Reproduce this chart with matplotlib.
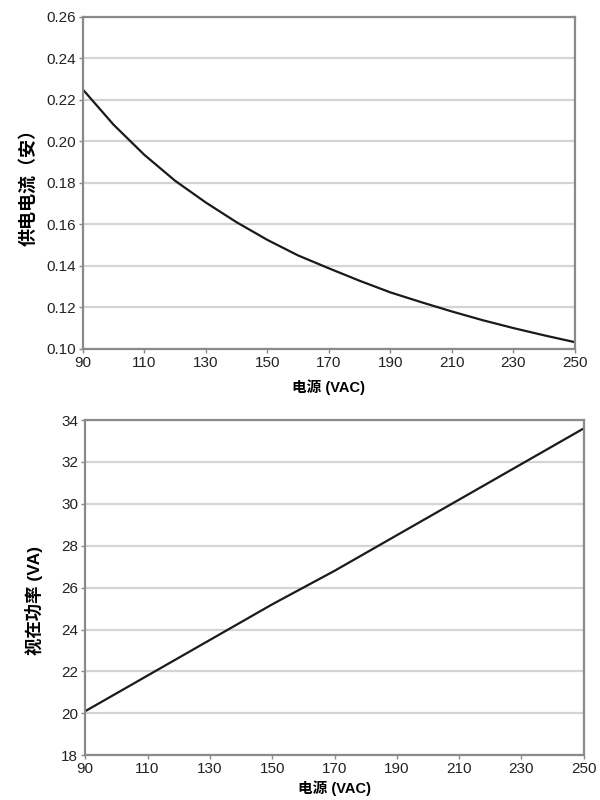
import matplotlib
matplotlib.use("Agg")
import matplotlib.pyplot as plt

plt.rcParams['font.family'] = ['Liberation Sans', 'Noto Sans CJK SC', 'DejaVu Sans']

voltage_i = [90, 100, 110, 120, 130, 140, 150, 160, 170, 180, 190, 200, 210, 220, 230, 240, 250]
current = [0.225, 0.208, 0.1935, 0.181, 0.1705, 0.161, 0.1525, 0.145, 0.1388, 0.1328,
           0.1272, 0.1225, 0.1180, 0.1138, 0.1100, 0.1065, 0.1032]

voltage_p = [90, 110, 130, 150, 170, 190, 210, 230, 250]
apparent_power = [20.1, 21.8, 23.5, 25.2, 26.8, 28.5, 30.2, 31.9, 33.6]

x_ticks = [90, 110, 130, 150, 170, 190, 210, 230, 250]
y1_ticks = [0.10, 0.12, 0.14, 0.16, 0.18, 0.20, 0.22, 0.24, 0.26]
y2_ticks = [18, 20, 22, 24, 26, 28, 30, 32, 34]

xlabel = "电源 (VAC)"
ylabel1 = "供电电流（安）"
ylabel2 = "视在功率 (VA)"

fig = plt.figure(figsize=(6, 8), dpi=100)
ax1 = fig.add_axes([0.138, 0.564, 0.82, 0.415])
ax2 = fig.add_axes([0.142, 0.056, 0.831, 0.419])

def style(ax, yticks, yfmt):
    ax.set_xlim(90, 250)
    ax.set_ylim(yticks[0], yticks[-1])
    ax.set_xticks(x_ticks)
    ax.set_yticks(yticks)
    ax.set_yticklabels([yfmt.format(v) for v in yticks])
    ax.grid(axis='y', color='#d4d4d4', linewidth=1.6)
    ax.set_axisbelow(True)
    for s in ax.spines.values():
        s.set_color('#8a8a8a')
        s.set_linewidth(1.6)
    ax.tick_params(axis='both', direction='out', length=3, width=1, color='#8a8a8a',
                   labelsize=11, pad=2, labelcolor='#222222')

style(ax1, y1_ticks, "{:.2f}")
style(ax2, y2_ticks, "{:.0f}")

ax1.plot(voltage_i, current, color='#1a1a1a', linewidth=1.6)
ax2.plot(voltage_p, apparent_power, color='#1a1a1a', linewidth=1.6)

ax1.set_xlabel(xlabel, fontsize=10.5, fontweight='bold', labelpad=7)
ax2.set_xlabel(xlabel, fontsize=10.5, fontweight='bold', labelpad=3)
ax1.set_ylabel(ylabel1, fontsize=13, fontweight='bold', labelpad=6)
ax2.set_ylabel(ylabel2, fontsize=12.5, fontweight='bold')
ax2.yaxis.set_label_coords(-0.084, 0.463)

fig.savefig("out.png", dpi=100)
